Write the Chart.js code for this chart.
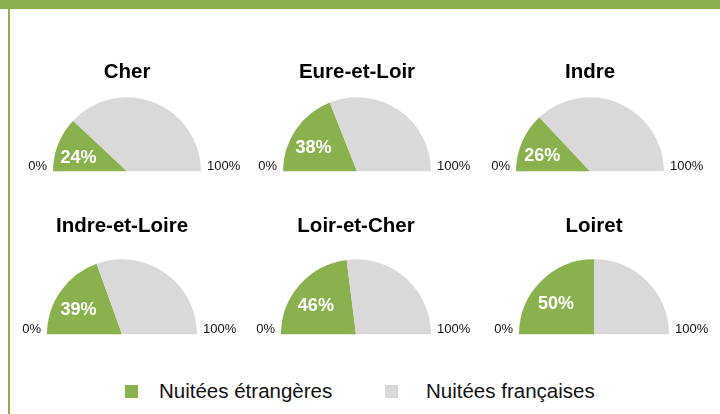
<!DOCTYPE html>
<html>
<head>
    <title>Nuitées par département</title>
    <script src="https://cdn.jsdelivr.net/npm/chart.js"></script>
    <style>
        body { margin: 0; background: #fff; font-family: "Liberation Sans", Arial, sans-serif; }
        #cadre { position: relative; width: 720px; height: 414px; overflow: hidden; }
        .barre-haut { position: absolute; left: 0; top: 0; width: 720px; height: 9px; background: #8AB14D; }
        .barre-gauche { position: absolute; left: 8px; top: 9px; width: 2px; height: 405px; background: #8AB14D; }
        .graph { position: absolute; }
        .carre { position: absolute; width: 13px; height: 13px; }
        .leg { position: absolute; font-size: 20.5px; line-height: 24px; color: #111; white-space: nowrap; }
    </style>
</head>
<body>
<div id="cadre">
    <div class="barre-haut"></div>
    <div class="barre-gauche"></div>

    <div class="carre" style="left:125px; top:385px; background:#8AB14D;"></div>
    <div class="leg" id="leg0" style="left:159px; top:379px;"></div>
    <div class="carre" style="left:385px; top:385px; background:#D9D9D9;"></div>
    <div class="leg" id="leg1" style="left:426px; top:379px;"></div>
</div>

<script>
    // donnees
    var departements = ["Cher", "Eure-et-Loir", "Indre", "Indre-et-Loire", "Loir-et-Cher", "Loiret"];
    var partEtrangeres = [24, 38, 26, 39, 46, 50];
    var series = ["Nuitées étrangères", "Nuitées françaises"];
    var bornes = ["0%", "100%"];

    var vert = "#8AB14D";
    var gris = "#D9D9D9";
    var police = '"Liberation Sans", Arial, sans-serif';

    // emplacement de chaque demi-camembert : centre x, base y, rayon, centre du titre
    var cases = [
        [127, 171, 74, 72], [357, 171, 74, 72], [590, 171, 74, 72],
        [122, 334, 75, 226], [356, 334, 75, 226], [594, 334, 75, 226]
    ];

    document.getElementById("leg0").textContent = series[0];
    document.getElementById("leg1").textContent = series[1];

    var titreTaille = 20.5;
    var titreLigne = titreTaille * 1.2;
    var largeur = 234;

    // etiquettes 0% / 100% et pourcentage dans la part verte
    var etiquettes = {
        id: "etiquettes",
        afterDraw: function(chart) {
            var ctx = chart.ctx;
            var area = chart.chartArea;
            var arc = chart.getDatasetMeta(0).data[0];
            ctx.save();
            ctx.fillStyle = "#111";
            ctx.font = "13px " + police;
            ctx.textBaseline = "alphabetic";
            ctx.textAlign = "right";
            ctx.fillText(bornes[0], area.left - 6, area.bottom - 1);
            ctx.textAlign = "left";
            ctx.fillText(bornes[1], area.right + 6, area.bottom - 1);

            var milieu = (arc.startAngle + arc.endAngle) / 2;
            var d = arc.outerRadius * 0.66;
            var x = arc.x + Math.cos(milieu) * d - 3;
            var y = arc.y + Math.sin(milieu) * d + 4.5;
            ctx.fillStyle = "#fff";
            ctx.font = "bold 18px " + police;
            ctx.textAlign = "center";
            ctx.textBaseline = "middle";
            ctx.fillText(chart.data.datasets[0].data[0] + "%", x, y);
            ctx.restore();
        }
    };

    var cadre = document.getElementById("cadre");

    departements.forEach(function(nom, i) {
        var c = cases[i];
        var cx = c[0], base = c[1], r = c[2], ty = c[3];
        var haut = ty - titreLigne / 2;
        var hauteur = base - haut + 4;

        var div = document.createElement("div");
        div.className = "graph";
        div.style.left = (cx - largeur / 2) + "px";
        div.style.top = haut + "px";
        div.style.width = largeur + "px";
        div.style.height = hauteur + "px";
        var canvas = document.createElement("canvas");
        div.appendChild(canvas);
        cadre.appendChild(div);

        new Chart(canvas, {
            type: "doughnut",
            data: {
                labels: series,
                datasets: [{
                    data: [partEtrangeres[i], 100 - partEtrangeres[i]],
                    backgroundColor: [vert, gris],
                    borderWidth: 0
                }]
            },
            options: {
                responsive: true,
                maintainAspectRatio: false,
                animation: false,
                cutout: 0,
                rotation: -90,
                circumference: 180,
                layout: {
                    padding: { left: largeur / 2 - r, right: largeur / 2 - r, top: 0, bottom: 4 }
                },
                plugins: {
                    legend: { display: false },
                    tooltip: { enabled: false },
                    title: {
                        display: true,
                        text: nom,
                        color: "#000",
                        font: { family: police, size: titreTaille, weight: "bold", lineHeight: 1.2 },
                        padding: { top: 0, bottom: (base - r) - (haut + titreLigne) }
                    }
                }
            },
            plugins: [etiquettes]
        });
    });
</script>
</body>
</html>
